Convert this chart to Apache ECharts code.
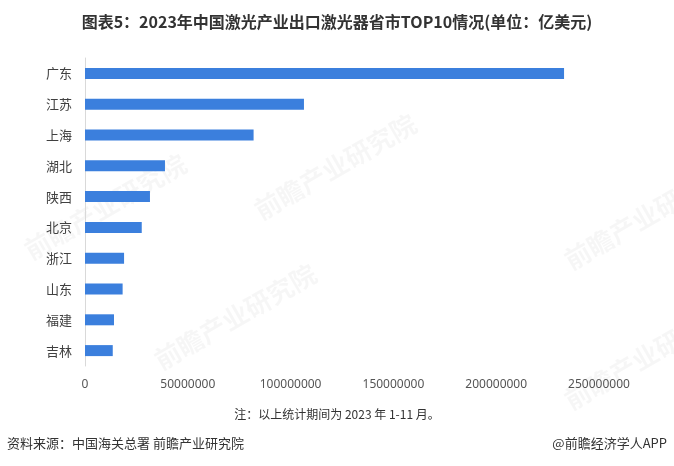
<!DOCTYPE html>
<html><head><meta charset="utf-8">
<script src="https://cdn.jsdelivr.net/npm/echarts@6/dist/echarts.min.js"></script>
<style>html,body{margin:0;padding:0;background:#fff}#c{width:674px;height:466px}</style>
</head><body><div id="c"></div>
<script>
const categories = ['广东','江苏','上海','湖北','陕西','北京','浙江','山东','福建','吉林'];
const values = [233000000,106500000,82000000,38900000,31600000,27600000,19000000,18300000,14100000,13500000];
const xTicks = [0,50000000,100000000,150000000,200000000,250000000];

const chart = echarts.init(document.getElementById('c'));
const wm = (x,y) => ({type:'text', left:x, top:y, rotation:Math.PI/6, z:0, silent:true,
  style:{text:'前瞻产业研究院', fill:'rgba(0,0,0,0.035)', font:'bold 26px "Noto Sans CJK SC"'}});
chart.setOption({
  animation:false,
  title:{text:'图表5：2023年中国激光产业出口激光器省市TOP10情况(单位：亿美元)', left:'center', top:9,
    textStyle:{fontFamily:'Noto Sans CJK SC', fontWeight:'bold', fontSize:16, color:'#333'}},
  grid:{left:85, right:75, top:58, bottom:100, containLabel:false},
  xAxis:{type:'value', min:xTicks[0], max:xTicks[xTicks.length-1], interval:xTicks[1]-xTicks[0],
    axisLine:{show:false}, axisTick:{show:false}, splitLine:{show:false},
    axisLabel:{margin:13, color:'#555', fontFamily:'Noto Sans', fontSize:12, formatter:v=>String(v)}},
  yAxis:{type:'category', inverse:true, data:categories,
    axisLine:{show:true, lineStyle:{color:'#d9d9d9'}}, axisTick:{show:false},
    axisLabel:{margin:13, color:'#404040', fontFamily:'Noto Sans CJK SC', fontSize:13}},
  series:[{type:'bar', data:values, barWidth:11, itemStyle:{color:'#3b7fdd'}}],
  graphic:[
    wm(20,150), wm(250,110), wm(560,160), wm(150,260), wm(560,300),
    {type:'text', left:'center', top:408, style:{text:'注：以上统计期间为 2023 年 1-11 月。', fill:'#333', font:'12px "Noto Sans CJK SC"'}},
    {type:'text', left:7, top:437, style:{text:'资料来源：中国海关总署 前瞻产业研究院', fill:'#333', font:'13px "Noto Sans CJK SC"'}},
    {type:'text', right:7, top:437, style:{text:'@前瞻经济学人APP', fill:'#333', font:'13px "Noto Sans CJK SC"'}}
  ]
});
</script></body></html>
